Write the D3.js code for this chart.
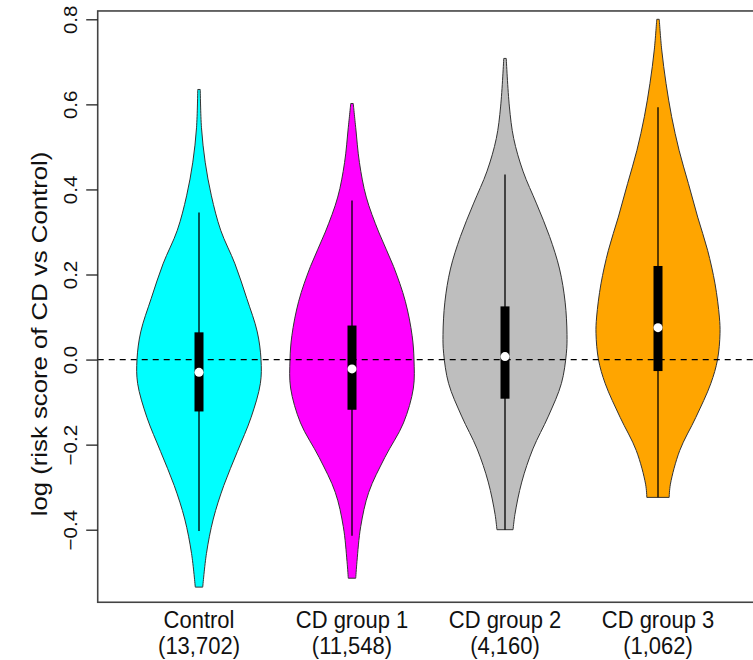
<!DOCTYPE html>
<html>
<head>
<meta charset="utf-8">
<script src="https://cdn.jsdelivr.net/npm/d3@7"></script>
<style>
  body { margin: 0; background: #fff; }
  svg { display: block; font-family: "Liberation Sans", Arial, sans-serif; }
</style>
</head>
<body>
<div id="chart"></div>
<script>
// groups, in plot order
var groups = ["Control", "CD group 1", "CD group 2", "CD group 3"];
var groupN = ["(13,702)", "(11,548)", "(4,160)", "(1,062)"];
var groupColors = ["#00ffff", "#ff00ff", "#bebebe", "#ffa500"];

// density outlines: value -> half width (% of widest)
var ctrlY = [0.635, 0.545, 0.464, 0.385, 0.304, 0.225, 0.144, 0.065, 0.0, -0.056, -0.136, -0.216, -0.296, -0.375, -0.456, -0.535];
var ctrlW = [2, 4, 10, 20, 35, 58, 77, 94, 100, 99, 84, 62, 40, 23, 12, 6];
var cd1Y = [0.602, 0.545, 0.463, 0.382, 0.300, 0.219, 0.137, 0.056, -0.001, -0.067, -0.149, -0.230, -0.312, -0.393, -0.475, -0.514];
var cd1W = [2, 6, 12, 23, 43, 67, 86, 97, 100, 99, 83, 53, 27, 14, 8, 6];
var cd2Y = [0.708, 0.596, 0.520, 0.443, 0.366, 0.289, 0.213, 0.135, 0.059, 0.015, -0.056, -0.133, -0.210, -0.288, -0.364, -0.40];
var cd2W = [2, 7, 14, 29, 51, 72, 88, 97, 100, 99, 91, 70, 45, 27, 16, 13];
var cd3Y = [0.80, 0.728, 0.649, 0.571, 0.492, 0.414, 0.335, 0.257, 0.178, 0.100, 0.061, 0.0, -0.057, -0.136, -0.214, -0.293, -0.324];
var cd3W = [2, 6, 13, 22, 34, 49, 64, 80, 92, 99, 100, 96, 85, 61, 35, 20, 18];

// box plot stats: lower whisker, q1, median, q3, upper whisker
var ctrlBox = [-0.403, -0.122, -0.030, 0.064, 0.346];
var cd1Box = [-0.414, -0.118, -0.022, 0.080, 0.374];
var cd2Box = [-0.400, -0.092, 0.007, 0.125, 0.435];
var cd3Box = [-0.324, -0.027, 0.075, 0.220, 0.593];

var yTicks = [-0.4, -0.2, 0.0, 0.2, 0.4, 0.6, 0.8];
var yLabel = "log (risk score of CD vs Control)";

var densY = [ctrlY, cd1Y, cd2Y, cd3Y];
var densW = [ctrlW, cd1W, cd2W, cd3W];
var boxes = [ctrlBox, cd1Box, cd2Box, cd3Box];

var xlim = [0.338, 4.662];
var ylim = [-0.5706, 0.8196];

var width = 753, height = 660;

var x = d3.scaleLinear().domain([1, 4]).range([199, 658]);
var y = d3.scaleLinear().domain([-0.4, 0.8]).range([529.7, 19.3]);
var w = d3.scaleLinear().domain([0, 100]).range([0, 62]);

var svg = d3.select("#chart").append("svg")
    .attr("width", width)
    .attr("height", height);

// violins
var violin = d3.area()
    .curve(d3.curveCatmullRom)
    .y(function(d) { return y(d.v); })
    .x0(function(d) { return d.cx - w(d.w); })
    .x1(function(d) { return d.cx + w(d.w); });

groups.forEach(function(g, i) {
  var cx = x(i + 1);
  var pts = densY[i].map(function(v, j) { return {v: v, w: densW[i][j], cx: cx}; });
  svg.append("path")
    .datum(pts)
    .attr("d", violin)
    .attr("fill", groupColors[i])
    .attr("stroke", "#333")
    .attr("stroke-width", 1);
});

// zero line
svg.append("line")
  .attr("x1", x(xlim[0])).attr("x2", x(xlim[1]))
  .attr("y1", y(0)).attr("y2", y(0))
  .attr("stroke", "#000")
  .attr("stroke-width", 1.3)
  .attr("stroke-dasharray", "6,5");

// box plots
groups.forEach(function(g, i) {
  var cx = x(i + 1), b = boxes[i];
  svg.append("line")
    .attr("x1", cx).attr("x2", cx)
    .attr("y1", y(b[0])).attr("y2", y(b[4]))
    .attr("stroke", "#000").attr("stroke-width", 1.3);
  svg.append("rect")
    .attr("x", cx - 4.5).attr("width", 9)
    .attr("y", y(b[3])).attr("height", y(b[1]) - y(b[3]))
    .attr("fill", "#000");
  svg.append("circle")
    .attr("cx", cx).attr("cy", y(b[2])).attr("r", 4.5)
    .attr("fill", "#fff");
});

// frame
svg.append("rect")
  .attr("x", x(xlim[0])).attr("y", y(ylim[1]))
  .attr("width", x(xlim[1]) - x(xlim[0]))
  .attr("height", y(ylim[0]) - y(ylim[1]))
  .attr("fill", "none")
  .attr("stroke", "#444")
  .attr("stroke-width", 1.6);

// y axis
var yAxis = svg.append("g")
  .attr("transform", "translate(" + x(xlim[0]) + ",0)")
  .call(d3.axisLeft(y).tickValues(yTicks).tickSize(11.5).tickFormat(d3.format(".1f")));
yAxis.select(".domain").remove();
yAxis.selectAll(".tick line").attr("stroke", "#222").attr("stroke-width", 1.3);
yAxis.selectAll(".tick text")
  .attr("transform", "rotate(-90) scale(1.08,1)")
  .attr("x", 0).attr("y", -21).attr("dy", 0)
  .style("text-anchor", "middle")
  .style("font-size", "19px")
  .style("font-family", "Liberation Sans, Arial, sans-serif")
  .attr("fill", "#111");

// the figure is a little stretched vertically, so text is too
svg.append("text")
  .attr("transform", "translate(47,334) rotate(-90) scale(1.17,1)")
  .style("text-anchor", "middle")
  .style("font-size", "22px")
  .attr("fill", "#111")
  .text(yLabel);

// category labels
groups.forEach(function(g, i) {
  svg.append("text")
    .attr("transform", "translate(" + x(i + 1) + ",628) scale(1,1.12)")
    .style("text-anchor", "middle")
    .style("font-size", "22px")
    .attr("fill", "#111")
    .text(g);
  svg.append("text")
    .attr("transform", "translate(" + x(i + 1) + ",654) scale(1,1.12)")
    .style("text-anchor", "middle")
    .style("font-size", "22px")
    .attr("fill", "#111")
    .text(groupN[i]);
});
</script>
</body>
</html>
